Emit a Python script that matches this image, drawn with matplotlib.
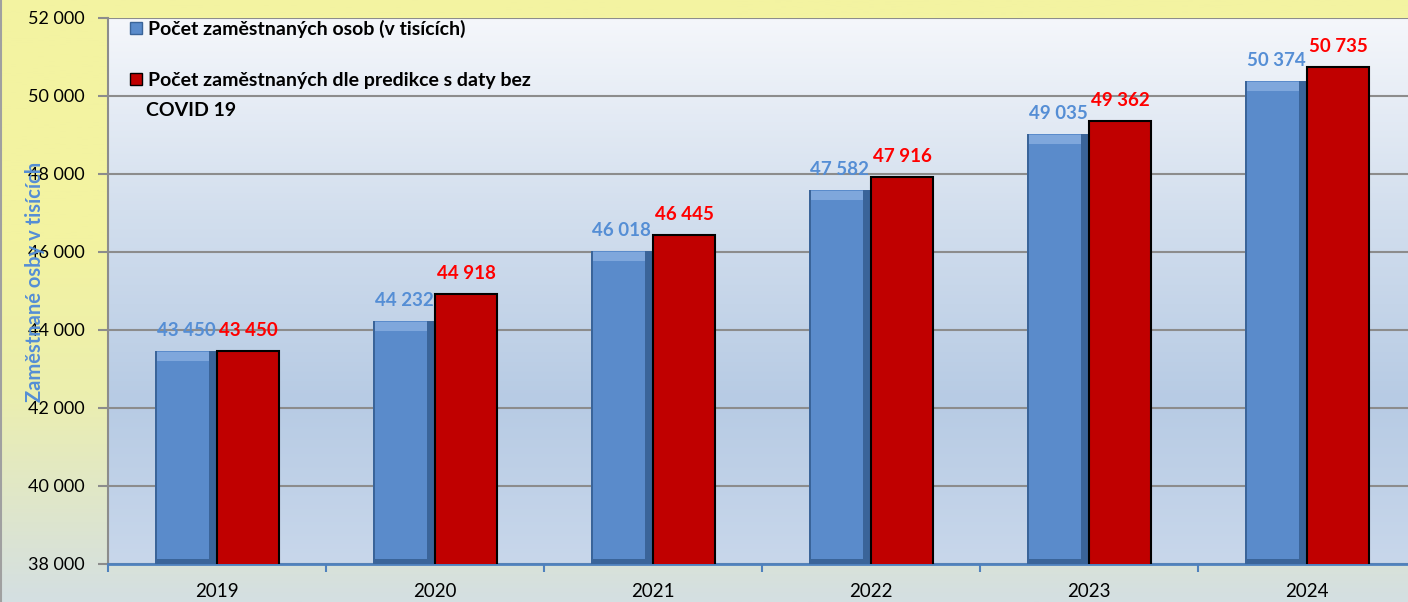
import numpy as np
import matplotlib
matplotlib.use("Agg")
import matplotlib.pyplot as plt
from matplotlib.colors import LinearSegmentedColormap
from matplotlib.patches import Patch

plt.rcParams['font.family'] = ['Lato', 'DejaVu Sans']

years = ['2019', '2020', '2021', '2022', '2023', '2024']
employed = [43450, 44232, 46018, 47582, 49035, 50374]
predicted = [43450, 44918, 46445, 47916, 49362, 50735]
yticks = [38000, 40000, 42000, 44000, 46000, 48000, 50000, 52000]

label_blue = 'Počet zaměstnaných osob (v tisících)'
label_red = 'Počet zaměstnaných dle predikce s daty bez'
label_red2 = 'COVID 19'
ylabel = 'Zaměstnané osby v tisících'

BLUE = '#5A8BCB'
BLUE_DARK = '#3A6499'
BLUE_TXT = '#558ED5'
RED = '#C00000'


def fmt(v):
    return f'{v:,}'.replace(',', ' ')


fig = plt.figure(figsize=(14.08, 6.02), dpi=100)

# figure background: yellow fading to greyish green at the bottom
bg = fig.add_axes([0, 0, 1, 1], zorder=-10)
bg_cmap = LinearSegmentedColormap.from_list(
    'bg', [(0, '#D4DFE2'), (0.35, '#ECEFAE'), (0.6, '#F3F3A1'), (1, '#F3F3A1')])
bg.imshow(np.linspace(0, 1, 256).reshape(-1, 1), cmap=bg_cmap, aspect='auto',
          origin='lower', extent=[0, 1, 0, 1])
bg.set_axis_off()
bg.axvline(0.001, color='#A0A0A0', lw=1.5)

ax = fig.add_axes([108 / 1408, 1 - 564 / 602, (1416 - 108) / 1408, (564 - 18) / 602])
ax.set_xlim(-0.5, len(years) - 0.5)
ax.set_ylim(yticks[0], yticks[-1])

# plot area gradient
pa_cmap = LinearSegmentedColormap.from_list(
    'pa', [(0, '#C8D7EB'), (0.3, '#B7CBE4'), (0.65, '#D3DFEE'), (1, '#F5F7FB')])
ax.imshow(np.linspace(0, 1, 256).reshape(-1, 1), cmap=pa_cmap, aspect='auto',
          origin='lower', extent=[0, 1, 0, 1], transform=ax.transAxes, zorder=0)

x = np.arange(len(years))
w = 0.285
px_x = 1 / 218.0
px_y = 1000 / 39.0

# blue bars with a simple bevel look (dark shadow right/bottom, light top)
ax.bar(x - w, employed, width=w - 0.005, align='edge',
       color=BLUE_DARK, zorder=3)
inner = [v - yticks[0] - 5 * px_y for v in employed]
ax.bar(x - w + 2 * px_x, inner, width=w - 0.005 - 9 * px_x, align='edge',
       bottom=yticks[0] + 5 * px_y, color=BLUE, zorder=4)
ax.bar(x - w + 2 * px_x, [9 * px_y] * len(x), width=w - 0.005 - 9 * px_x, align='edge',
       bottom=[v - 10 * px_y for v in employed], color='#7FA7DC', zorder=5)

# red bars
ax.bar(x, predicted, width=w, align='edge', color=RED, edgecolor='black',
       linewidth=1.5, zorder=3)

for i in range(len(x)):
    ax.text(x[i] - w / 2, employed[i] + 12 * px_y, fmt(employed[i]), ha='center',
            va='bottom', color=BLUE_TXT, fontsize=13.5, fontweight='bold', zorder=6)
    ax.text(x[i] + w / 2, predicted[i] + 12 * px_y, fmt(predicted[i]), ha='center',
            va='bottom', color='#FF0000', fontsize=13.5, fontweight='bold', zorder=6)

ax.set_yticks(yticks)
ax.set_yticklabels([fmt(t) for t in yticks], fontsize=13)
ax.grid(axis='y', color='#8C8C8C', lw=1.5, zorder=1)
ax.set_axisbelow(True)
ax.tick_params(axis='y', length=7, width=1.5, color='#8C8C8C', pad=10)

ax.set_xticks(x)
ax.set_xticklabels(years, fontsize=13.5)
ax.set_xticks(np.arange(len(years) + 1) - 0.5, minor=True)
ax.tick_params(axis='x', which='major', length=0, pad=14)
ax.tick_params(axis='x', which='minor', length=6, width=1.5, color='#4F81BD')

for s in ['top', 'right']:
    ax.spines[s].set_visible(False)
ax.spines['left'].set_color('#8C8C8C')
ax.spines['left'].set_linewidth(1.5)
ax.spines['bottom'].set_color('#4F81BD')
ax.spines['bottom'].set_linewidth(2)

fig.text(35 / 1408, 1 - 282 / 602, ylabel, rotation=90, ha='center', va='center',
         color=BLUE_TXT, fontsize=14.5, fontweight='bold')

handles = [Patch(facecolor=BLUE, edgecolor=BLUE_DARK), Patch(facecolor=RED, edgecolor='black')]
ax.legend(handles, [label_blue, label_red], loc='upper left',
          bbox_to_anchor=(22 / 1308, 1 - 2 / 546), frameon=False,
          prop={'weight': 'bold', 'size': 14}, labelspacing=1.75,
          handlelength=0.6, handleheight=0.6, handletextpad=0.3,
          borderaxespad=0, borderpad=0)
ax.text(38 / 1308, 1 - 92 / 546, label_red2, transform=ax.transAxes, ha='left',
        va='center', fontsize=14, fontweight='bold', zorder=6)

fig.savefig('out.png', dpi=100)
